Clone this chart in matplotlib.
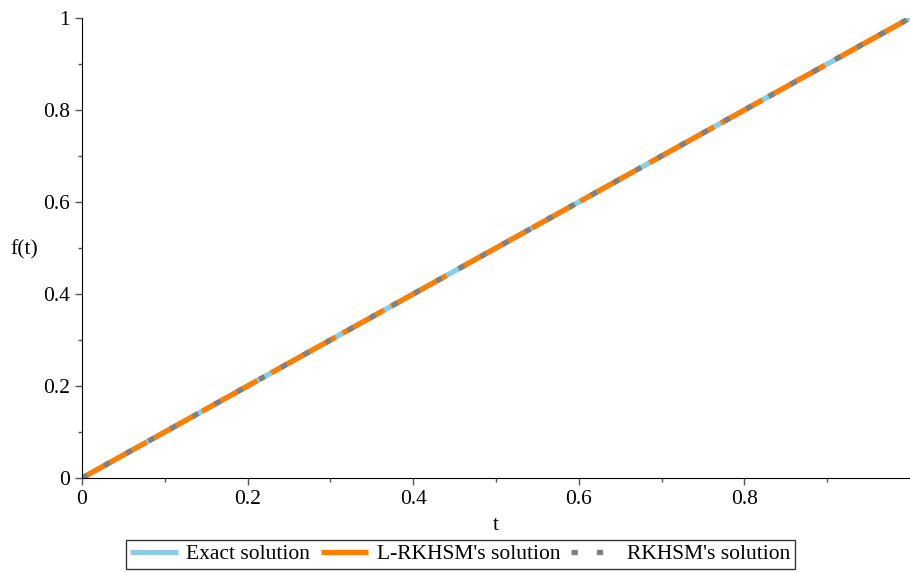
import matplotlib.pyplot as plt

plt.rcParams["font.family"] = ["Liberation Serif", "DejaVu Serif"]

# Solutions sampled on [0, 1]
t = [0.0, 0.25, 0.5, 0.75, 1.0]
f_exact = [0.0, 0.25, 0.5, 0.75, 1.0]
f_lrkhsm = [0.0, 0.25, 0.5, 0.75, 1.0]
f_rkhsm = [0.0, 0.25, 0.5, 0.75, 1.0]

x_ticks = [0, 0.2, 0.4, 0.6, 0.8]
y_ticks = [0, 0.2, 0.4, 0.6, 0.8, 1]
tick_labels_x = ["0", "0.2", "0.4", "0.6", "0.8"]
tick_labels_y = ["0", "0.2", "0.4", "0.6", "0.8", "1"]

fig = plt.figure(figsize=(9.1, 5.72), dpi=100)
ax = fig.add_axes([0.0901, 0.1643, 0.9099, 0.8042])

ax.plot(t, f_exact, color="#87ceeb", lw=3.8, label="Exact solution",
        solid_capstyle="butt")
ax.plot(t, f_lrkhsm, color="#ff8000", lw=3.8, label="L-RKHSM's solution",
        linestyle=(0, (14, 1.5, 9, 1.5, 12, 3.0)), dash_capstyle="butt")
ax.plot(t, f_rkhsm, color="#808080", lw=3.8, label="RKHSM's solution",
        linestyle=(0, (1.2, 3.6)), dash_capstyle="butt")

ax.set_xlim(0, 1)
ax.set_ylim(0, 1)
ax.spines["top"].set_visible(False)
ax.spines["right"].set_visible(False)
ax.set_xticks(x_ticks)
ax.set_xticklabels(tick_labels_x)
ax.set_yticks(y_ticks)
ax.set_yticklabels(tick_labels_y)
ax.set_xticks([0.1, 0.3, 0.5, 0.7, 0.9], minor=True)
ax.set_yticks([0.1, 0.3, 0.5, 0.7, 0.9], minor=True)
ax.tick_params(axis="both", which="major", labelsize=15.5, length=5, width=1,
               color="#555555")
ax.tick_params(axis="both", which="minor", length=3, width=1, color="#555555")

ax.set_xlabel("t", fontsize=15.5, labelpad=5)
ax.set_ylabel("f(t)", fontsize=15.5, rotation=0, labelpad=22)
ax.yaxis.set_label_coords(-0.07, 0.475)

leg = fig.legend(loc="lower center", bbox_to_anchor=(0.506, 0.0), ncol=3,
                 fontsize=15.5, frameon=True, fancybox=False, edgecolor="black",
                 handlelength=2.2, handletextpad=0.4, columnspacing=0.5,
                 borderpad=0.2, borderaxespad=0.15)
leg.get_frame().set_linewidth(1.0)

fig.savefig("out.png", dpi=100)
